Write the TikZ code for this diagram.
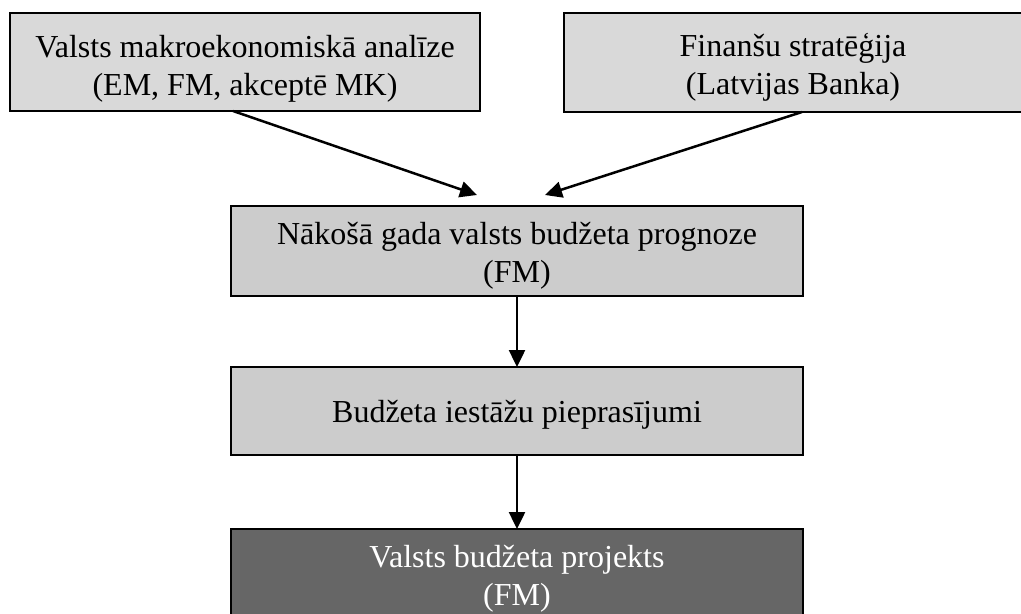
\documentclass[tikz,border=0pt]{standalone}
\usepackage{fontspec}
\setmainfont{Liberation Serif}
\usetikzlibrary{arrows.meta}
\definecolor{boxlight}{HTML}{D9D9D9}
\definecolor{boxmid}{HTML}{CCCCCC}
\definecolor{boxdark}{HTML}{666666}
\begin{document}
\begin{tikzpicture}[x=0.5pt,y=-0.5pt,
  stagebox/.style={draw=black, line width=1.35pt, outer sep=0pt, inner sep=0pt},
  stagetext/.style={align=center, inner sep=0pt, font=\fontsize{16}{19}\selectfont},
  flow/.style={line width=1.25pt, -{Triangle[length=8.5pt,width=8pt]}}]
\useasboundingbox (0,0) rectangle (1021,614);

% source boxes
\node[stagebox, fill=boxlight, minimum width=470*0.5pt, minimum height=98*0.5pt]
  (macro) at (245,62) {};
\node[stagetext] (macroT) at ([yshift=-3.5pt]macro.center)
  {Valsts makroekonomiskā analīze\\(EM, FM, akceptē MK)};
\node[stagebox, fill=boxlight, minimum width=458*0.5pt, minimum height=99*0.5pt]
  (strat) at (793,62.5) {};
\node[stagetext] (stratT) at ([yshift=-2.5pt]strat.center)
  {Finanšu stratēģija\\(Latvijas Banka)};

% budget chain
\node[stagebox, fill=boxmid, minimum width=572*0.5pt, minimum height=90*0.5pt]
  (forecast) at (517,251) {};
\node[stagetext] (forecastT) at ([yshift=-2.5pt]forecast.center)
  {Nākošā gada valsts budžeta prognoze\\(FM)};
\node[stagebox, fill=boxmid, minimum width=572*0.5pt, minimum height=88*0.5pt]
  (requests) at (517,411) {};
\node[stagetext] (requestsT) at ([yshift=-2pt]requests.center)
  {Budžeta iestāžu pieprasījumi};
\node[stagebox, fill=boxdark, minimum width=572*0.5pt, minimum height=96*0.5pt]
  (draft) at (517,577) {};
\node[stagetext, text=white] (draftT) at ([yshift=-1pt]draft.center)
  {Valsts budžeta projekts\\(FM)};

% connectors
\coordinate (inL) at ([shift={(-40,-11)}]forecast.north);
\coordinate (inR) at ([shift={(28,-11)}]forecast.north);
\draw[flow] ([xshift=-6pt]macro.south) -- (inL);
\draw[flow] ([xshift=4.5pt]strat.south) -- (inR);
\draw[flow] (forecast.south) -- (requests.north);
\draw[flow] (requests.south) -- (draft.north);
\end{tikzpicture}
\end{document}
